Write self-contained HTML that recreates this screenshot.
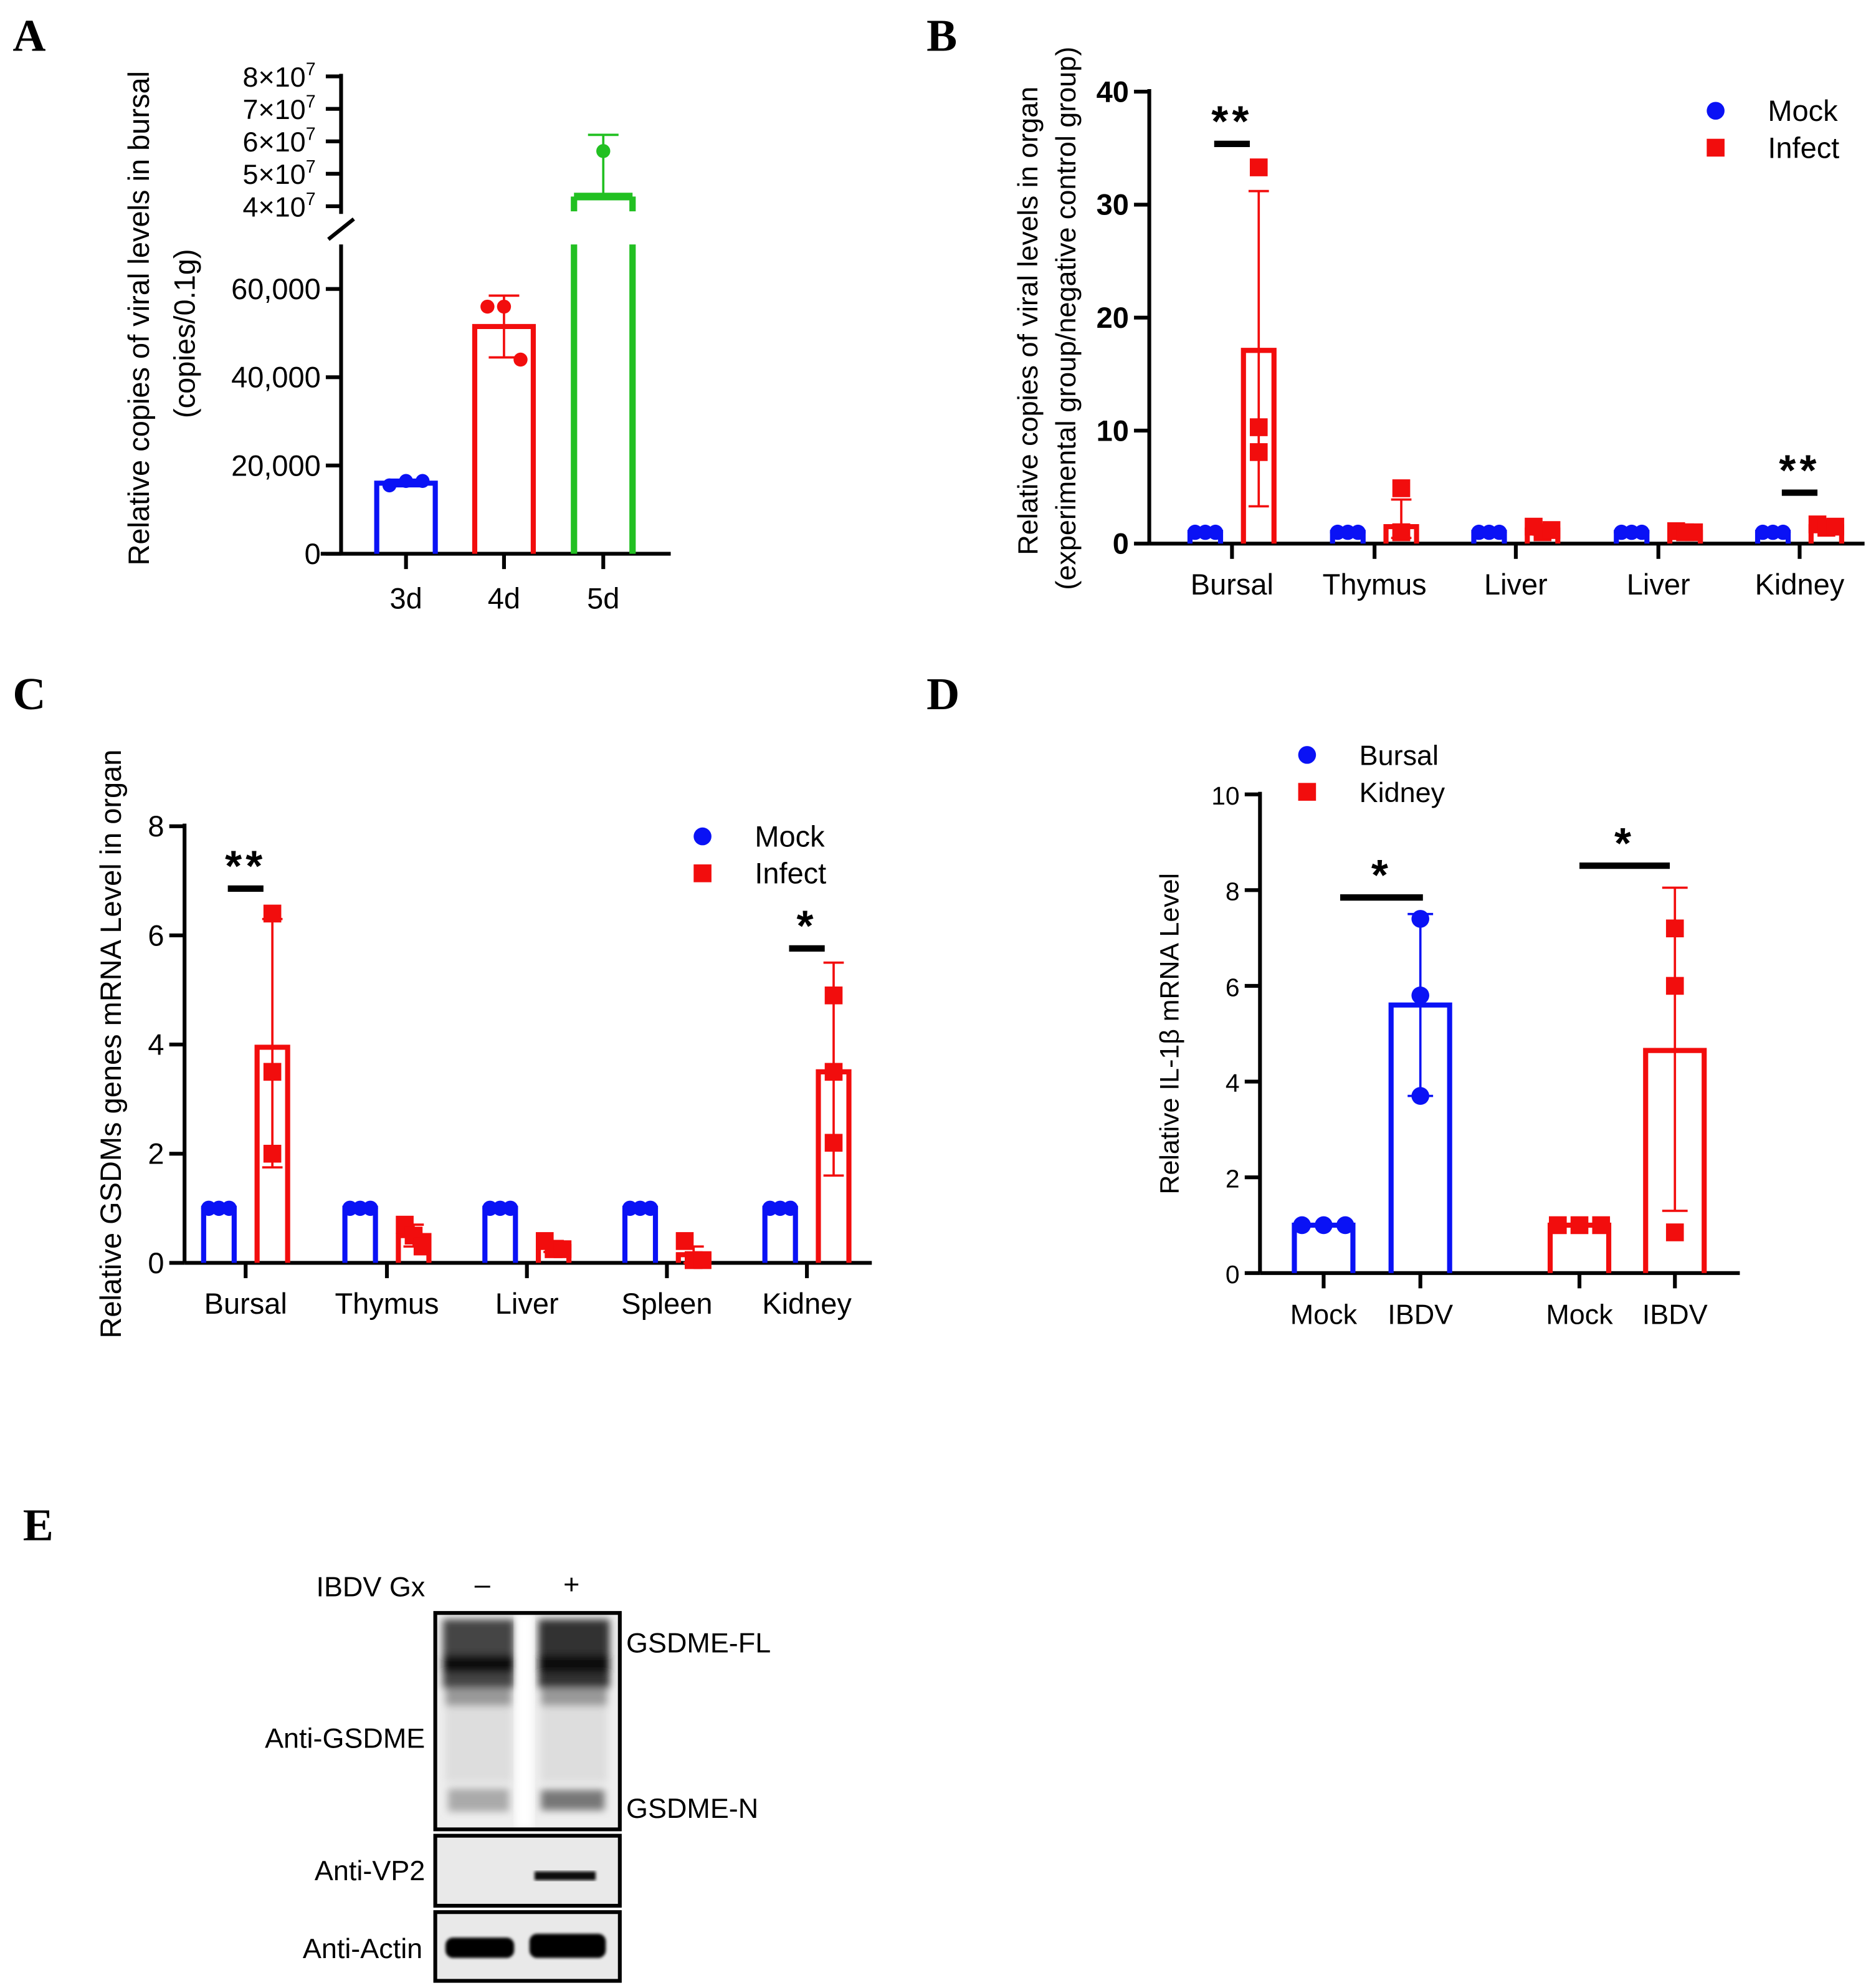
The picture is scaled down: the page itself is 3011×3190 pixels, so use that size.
<!DOCTYPE html>
<html><head><meta charset="utf-8">
<style>
html,body{margin:0;padding:0;background:#fff;}
svg{display:block;}
text{font-family:"Liberation Sans",sans-serif;}
.pl{font-family:"Liberation Serif",serif;font-weight:bold;font-size:36px;}
</style></head>
<body>
<svg id="fig" width="3011" height="3190" viewBox="0 0 1474 1561.6" xmlns="http://www.w3.org/2000/svg">
<defs>
<filter id="blur3"><feGaussianBlur stdDeviation="3"/></filter>
<filter id="blur1"><feGaussianBlur stdDeviation="1.2"/></filter>
</defs>
<text class="pl" x="10" y="40">A</text>
<text class="pl" x="728" y="40">B</text>
<text class="pl" x="10" y="557">C</text>
<text class="pl" x="728" y="557">D</text>
<text class="pl" x="18" y="1210">E</text>
<g id="gA"></g>
<g id="gB"></g>
<g id="gC"></g>
<g id="gD"></g>
<g id="gE">
  <text x="334" y="1254" font-size="22" text-anchor="end">IBDV Gx</text>
  <text x="379" y="1252" font-size="22" text-anchor="middle">–</text>
  <text x="449" y="1252" font-size="22" text-anchor="middle">+</text>
  <g>
    <rect x="342" y="1267" width="145" height="170" fill="#eeeeee"/>
    <g filter="url(#blur3)">
      <rect x="348" y="1272" width="56" height="54" fill="#444"/>
      <rect x="423" y="1272" width="56" height="54" fill="#333"/>
      <rect x="348" y="1300" width="56" height="14" fill="#111"/>
      <rect x="423" y="1300" width="56" height="14" fill="#111"/>
      <rect x="350" y="1326" width="52" height="14" fill="#999"/>
      <rect x="425" y="1326" width="52" height="14" fill="#999"/>
      <rect x="350" y="1340" width="52" height="60" fill="#ddd"/>
      <rect x="425" y="1340" width="52" height="60" fill="#ddd"/>
      <rect x="352" y="1405" width="48" height="18" fill="#aaa"/>
      <rect x="425" y="1406" width="50" height="16" fill="#777"/>
    </g>
    <rect x="405" y="1268" width="14" height="168" fill="#fff" filter="url(#blur3)"/>
    <rect x="342" y="1267" width="145" height="170" fill="none" stroke="#000" stroke-width="3"/>
  </g>
  <g>
    <rect x="342" y="1442" width="145" height="55" fill="#e9e9e9" stroke="#000" stroke-width="3"/>
    <rect x="420" y="1470" width="48" height="7" fill="#111" filter="url(#blur1)"/>
  </g>
  <g>
    <rect x="342" y="1502" width="145" height="54" fill="#e9e9e9" stroke="#000" stroke-width="3"/>
    <rect x="350" y="1522" width="54" height="16" rx="6" fill="#000" filter="url(#blur1)"/>
    <rect x="416" y="1519" width="60" height="19" rx="6" fill="#000" filter="url(#blur1)"/>
  </g>
  <text x="492" y="1298" font-size="22">GSDME-FL</text>
  <text x="492" y="1428" font-size="22">GSDME-N</text>
  <text x="334" y="1373" font-size="22" text-anchor="end">Anti-GSDME</text>
  <text x="334" y="1477" font-size="22" text-anchor="end">Anti-VP2</text>
  <text x="332" y="1538" font-size="22" text-anchor="end">Anti-Actin</text>
</g>
</svg>
<script>
// ---------- DATA ----------
// Panel A
const aCats=["3d","4d","5d"];
const aMeans=[16000,51500,43000000];
const aPts=[[15500,16500,16500],[56000,56000,44000],[57000000]];
const aErrHi=[16800,58500,62000000];
const aErrLo=[15300,44500,43000000];
const aLowTicks=[0,20000,40000,60000];
const aLowTickLabels=["0","20,000","40,000","60,000"];
const aHighTicks=[40000000,50000000,60000000,70000000,80000000];
// Panel B
const bCats=["Bursal","Thymus","Liver","Liver","Kidney"];
const bMock=[1,1,1,1,1];
const bInfect=[17.1,1.5,1.2,1.0,1.5];
const bInfectPts=[[33.3,10.3,8.1],[4.9,1,1],[1.5,1,1.2],[1.1,1,1],[1.7,1.4,1.5]];
const bInfectHi=[31.2,3.9,1.6,1.2,1.9];
const bInfectLo=[3.3,0.5,0.8,0.8,1.1];
const bTicks=[0,10,20,30,40];
const bSig=[["**",0],["**",4]];
// Panel C
const cCats=["Bursal","Thymus","Liver","Spleen","Kidney"];
const cMock=[1,1,1,1,1];
const cInfect=[3.95,0.5,0.3,0.15,3.5];
const cInfectPts=[[6.4,3.5,2.0],[0.7,0.5,0.3],[0.4,0.25,0.25],[0.4,0.05,0.05],[4.9,2.2,3.5]];
const cInfectHi=[6.3,0.7,0.4,0.3,5.5];
const cInfectLo=[1.75,0.3,0.2,0.0,1.6];
const cTicks=[0,2,4,6,8];
const cSig=[["**",0],["*",4]];
// Panel D
const dCats=["Mock","IBDV","Mock","IBDV"];
const dMeans=[1.0,5.6,1.0,4.65];
const dPts=[[1,1,1],[7.4,5.8,3.7],[1,1,1],[7.2,6.0,0.85]];
const dHi=[1.0,7.5,1.0,8.05];
const dLo=[1.0,3.7,1.0,1.3];
const dTicks=[0,2,4,6,8,10];

// ---------- HELPERS ----------
const NS="http://www.w3.org/2000/svg";
function mk(parent,tag,attrs,txt){const e=document.createElementNS(NS,tag);for(const k in attrs)e.setAttribute(k,attrs[k]);if(txt!==undefined)e.textContent=txt;parent.appendChild(e);return e;}
const BLUE="#0a12f5",RED="#f20d0d",GREEN="#22c022";
function marker(g,x,y,shape,color,s){
  let e;
  if(shape==="c") e=mk(g,"circle",{cx:x,cy:y,r:s,fill:color});
  else e=mk(g,"rect",{x:x-s,y:y-s,width:2*s,height:2*s,fill:color});
  
  
}
function errbar(g,x,y1,y2,color,cap){
  mk(g,"line",{x1:x,x2:x,y1:y1,y2:y2,stroke:color,"stroke-width":1.8});
  mk(g,"line",{x1:x-cap,x2:x+cap,y1:y1,y2:y1,stroke:color,"stroke-width":1.8});
  mk(g,"line",{x1:x-cap,x2:x+cap,y1:y2,y2:y2,stroke:color,"stroke-width":1.8});
}
function bar(g,x,yTop,yBase,w,color,sw,name){
  const e=mk(g,"path",{d:`M${x-w/2},${yBase} V${yTop} H${x+w/2} V${yBase}`,fill:"none",stroke:color,"stroke-width":sw});
  
  
}
function yaxis(g,x,y0,y1,ticks,fy,labels,fs,bold){
  mk(g,"line",{x1:x,x2:x,y1:y0,y2:y1,stroke:"#000","stroke-width":3});
  ticks.forEach((t,i)=>{const y=fy(t);
    mk(g,"line",{x1:x-12,x2:x,y1:y,y2:y,stroke:"#000","stroke-width":3});
    const l=mk(g,"text",{x:x-16,y:y+8,"font-size":fs,"text-anchor":"end","font-weight":bold?"bold":"normal"},labels?labels[i]:String(t));
    
    
  });
}
function ytitle(g,x,y,txt,fs){const e=mk(g,"text",{x:0,y:0,"font-size":fs,"text-anchor":"middle",transform:`translate(${x},${y}) rotate(-90)`},txt);
  }
function legend(g,x,y,items,fs){items.forEach((it,i)=>{marker(g,x,y+i*29,it[1],it[2],7);
  const t=mk(g,"text",{x:x+41,y:y+i*29+8,"font-size":fs},it[0]);
  });}
function sig(g,x1,x2,y,txt){mk(g,"line",{x1:x1,x2:x2,y1:y,y2:y,stroke:"#000","stroke-width":5});
  const t=mk(g,"text",{x:(x1+x2)/2,y:y-6,"font-size":34,"text-anchor":"middle","font-weight":"bold","letter-spacing":"3"},txt);
  }

// ---------- PANEL A ----------
(function(){
  const g=document.getElementById("gA");
  const ax=268,y0=435;
  const yl=v=>y0-v*(435-227)/60000;
  const yh=v=>162-(v-40000000)*(162-60)/40000000;
  const xs=[319,396,474];
  yaxis(g,ax,435,192,aLowTicks,yl,aLowTickLabels,23);
  mk(g,"line",{x1:ax,x2:ax,y1:168,y2:58,stroke:"#000","stroke-width":3});
  aHighTicks.forEach(t=>{const y=yh(t);mk(g,"line",{x1:ax-12,x2:ax,y1:y,y2:y,stroke:"#000","stroke-width":3});
    const l=mk(g,"text",{x:ax-20,y:y+8,"font-size":22,"text-anchor":"end"});
    
    mk(l,"tspan",{},(t/1e7)+"×10");mk(l,"tspan",{dy:-9,"font-size":14},"7");});
  mk(g,"line",{x1:258,x2:278,y1:188,y2:172,stroke:"#000","stroke-width":3});
  mk(g,"line",{x1:252,x2:527,y1:y0,y2:y0,stroke:"#000","stroke-width":3});
  const cols=[BLUE,RED,GREEN];
  aCats.forEach((c,i)=>{const x=xs[i];
    mk(g,"line",{x1:x,x2:x,y1:y0,y2:y0+12,stroke:"#000","stroke-width":3});
    const t=mk(g,"text",{x:x,y:478,"font-size":23,"text-anchor":"middle"},c);
    
    if(i<2){bar(g,x,yl(aMeans[i]),y0,46,cols[i],4,"bar-"+c);
      errbar(g,x,yl(aErrHi[i]),yl(aErrLo[i]),cols[i],12);
      const n=aPts[i].length;aPts[i].forEach((p,j)=>marker(g,x+(j-(n-1)/2)*13,yl(p),"c",cols[i],5.5));}
    else{mk(g,"path",{d:`M${x-23},${y0} V192 M${x+23},${y0} V192`,stroke:cols[i],"stroke-width":5,fill:"none"});
      mk(g,"path",{d:`M${x-23},${yh(aMeans[i])} H${x+23}`,stroke:cols[i],"stroke-width":6});
      mk(g,"path",{d:`M${x-23},166 V${yh(aMeans[i])} M${x+23},166 V${yh(aMeans[i])}`,stroke:cols[i],"stroke-width":5});
      errbar(g,x,yh(aErrHi[i]),yh(aMeans[i]),cols[i],12);
      aPts[i].forEach(p=>marker(g,x,yh(p),"c",cols[i],5.5));}
  });
  ytitle(g,117,250,"Relative copies of viral levels in bursal",23);
  ytitle(g,153,262,"(copies/0.1g)",23);
})();

// ---------- GROUPED PANELS (B, C) ----------
function grouped(id,ax,y0,yTop,xEnd,ymax,ticks,cats,mock,inf,pts,hi,lo,centers,sigs,sigY,bold,tfs){
  const g=document.getElementById(id);
  const fy=v=>y0-v*(y0-yTop)/ymax;
  yaxis(g,ax,y0,yTop-2,ticks,fy,null,tfs,bold);
  mk(g,"line",{x1:ax,x2:xEnd,y1:y0,y2:y0,stroke:"#000","stroke-width":3});
  cats.forEach((c,i)=>{const x=centers[i];
    mk(g,"line",{x1:x,x2:x,y1:y0,y2:y0+12,stroke:"#000","stroke-width":3});
    const t=mk(g,"text",{x:x,y:y0+40,"font-size":23,"text-anchor":"middle"},c);
    
    const xm=x-21,xi=x+21;
    bar(g,xm,fy(mock[i]),y0,24,BLUE,4,"bar-mock-"+c.toLowerCase());
    [-8,0,8].forEach(d=>marker(g,xm+d,fy(mock[i]),"c",BLUE,6));
    bar(g,xi,fy(inf[i]),y0,24,RED,4,"bar-infect-"+c.toLowerCase());
    errbar(g,xi,fy(hi[i]),fy(lo[i]),RED,8);
    pts[i].forEach((p,j)=>marker(g,xi+(pts[i].every(q=>Math.abs(q-pts[i][0])<1)?(j-1)*7:0),fy(p),"s",RED,7));
  });
  sigs.forEach((s,k)=>{const x=centers[s[1]];sig(g,x-14,x+14,sigY[k],s[0]);});
  return g;
}
(function(){
  const g=grouped("gB",903,427,72,1465,40,bTicks,bCats,bMock,bInfect,bInfectPts,bInfectHi,bInfectLo,[968,1080,1191,1303,1414],bSig,[113,387],true,23);
  legend(g,1348,87,[["Mock","c",BLUE],["Infect","s",RED]],23);
  ytitle(g,815,252,"Relative copies of viral levels in organ",22);
  ytitle(g,845,250,"(experimental group/negative control group)",22);
})();
(function(){
  const g=grouped("gC",145,992,649,685,8,cTicks,cCats,cMock,cInfect,cInfectPts,cInfectHi,cInfectLo,[193,304,414,524,634],cSig,[698,745],false,23);
  legend(g,552,657,[["Mock","c",BLUE],["Infect","s",RED]],23);
  ytitle(g,95,820,"Relative GSDMs genes mRNA Level in organ",23);
})();

// ---------- PANEL D ----------
(function(){
  const g=document.getElementById("gD");
  const y0=1000,fy=v=>y0-v*(1000-624)/10;
  yaxis(g,990,y0,622,dTicks,fy,null,20);
  mk(g,"line",{x1:990,x2:1367,y1:y0,y2:y0,stroke:"#000","stroke-width":3});
  const xs=[1040,1116,1241,1316],cols=[BLUE,BLUE,RED,RED],shp=["c","c","s","s"];
  dCats.forEach((c,i)=>{const x=xs[i];
    mk(g,"line",{x1:x,x2:x,y1:y0,y2:y0+12,stroke:"#000","stroke-width":3});
    const t=mk(g,"text",{x:x,y:1040,"font-size":22,"text-anchor":"middle"},c);
    
    bar(g,x,fy(dMeans[i]),y0,46,cols[i],4,"bar-"+(i<2?"bursal-":"kidney-")+c.toLowerCase());
    if(dHi[i]!==dLo[i]) errbar(g,x,fy(dHi[i]),fy(dLo[i]),cols[i],10);
    const flat=dPts[i].every(q=>q===dPts[i][0]);
    dPts[i].forEach((p,j)=>marker(g,x+(flat?(j-1)*17:0),fy(p),shp[i],cols[i],7));
  });
  sig(g,1053,1118,705,"*");
  sig(g,1241,1312,680,"*");
  legend(g,1027,593,[["Bursal","c",BLUE],["Kidney","s",RED]],22);
  ytitle(g,926,812,"Relative IL-1β mRNA Level",21);
})();
</script>
</body></html>
